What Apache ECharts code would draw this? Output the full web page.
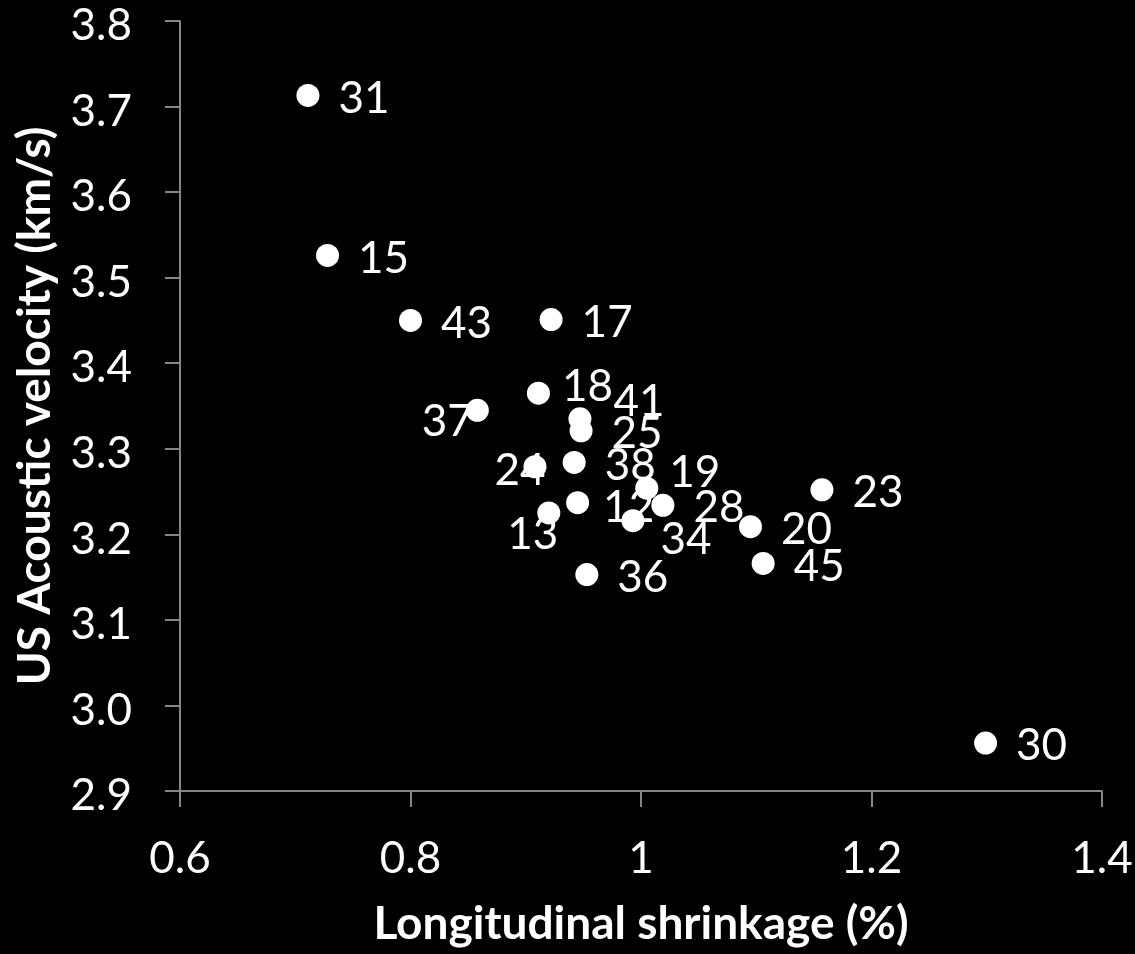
<!DOCTYPE html>
<html>
<head>
<meta charset="utf-8">
<script src="https://cdn.jsdelivr.net/npm/echarts@6/dist/echarts.min.js"></script>
<style>
html,body{margin:0;padding:0;background:#000;}
#chart{width:1135px;height:954px;}
</style>
</head>
<body>
<div id="chart"></div>
<script>
// Sample identifiers (point labels)
const sampleIds = ['31','15','43','17','18','37','41','25','24','38','12','13','19','28','34','36','20','45','23','30'];
// Longitudinal shrinkage (%)
const shrinkage = [0.711,0.728,0.800,0.922,0.911,0.858,0.947,0.948,0.908,0.942,0.945,0.920,1.005,1.019,0.993,0.953,1.095,1.106,1.157,1.299];
// US Acoustic velocity (km/s)
const velocity = [3.713,3.526,3.450,3.451,3.365,3.345,3.335,3.321,3.279,3.284,3.237,3.225,3.254,3.234,3.216,3.153,3.209,3.166,3.252,2.956];
// Axis tick labels
const xTicks = ['0.6','0.8','1','1.2','1.4'];
const yTicks = ['2.9','3.0','3.1','3.2','3.3','3.4','3.5','3.6','3.7','3.8'];

// Label placement tweaks (styling only)
const labelShift = {'37':[-86,9],'24':[-71,1],'13':[-72,19],'18':[-7,-9],'41':[3,-20],'19':[-8,-18],'12':[-5,2],'34':[-3,16]};

const FONT = 'Lato, "Open Sans", sans-serif';
const AXIS_COLOR = '#868686';

const points = sampleIds.map((id, i) => {
  const p = {name: id, value: [shrinkage[i], velocity[i]]};
  if (labelShift[id]) {
    p.label = {offset: [labelShift[id][0], labelShift[id][1] + 3]};
  }
  return p;
});

const chart = echarts.init(document.getElementById('chart'));
chart.setOption({
  backgroundColor: '#000',
  animation: false,
  grid: {left: 180, right: 33, top: 21, bottom: 163, containLabel: false, outerBoundsMode: 'none'},
  xAxis: {
    type: 'value', min: 0.6, max: 1.4, interval: 0.2,
    name: 'Longitudinal shrinkage (%)', nameLocation: 'middle', nameGap: 110,
    nameTextStyle: {color: '#fff', fontFamily: FONT, fontWeight: 'bold', fontSize: 46},
    axisLine: {show: true, lineStyle: {color: AXIS_COLOR, width: 2}},
    axisTick: {show: true, inside: false, length: 16, lineStyle: {color: AXIS_COLOR, width: 2}},
    splitLine: {show: false},
    axisLabel: {color: '#fff', fontFamily: FONT, fontSize: 44, margin: 46,
      formatter: v => xTicks[Math.round((v - 0.6) / 0.2)]}
  },
  yAxis: {
    type: 'value', min: 2.9, max: 3.8, interval: 0.1,
    name: 'US Acoustic velocity (km/s)', nameLocation: 'middle', nameGap: 122, nameRotate: 90,
    nameTextStyle: {color: '#fff', fontFamily: FONT, fontWeight: 'bold', fontSize: 46},
    axisLine: {show: true, lineStyle: {color: AXIS_COLOR, width: 2}},
    axisTick: {show: true, inside: false, length: 15, lineStyle: {color: AXIS_COLOR, width: 2}},
    splitLine: {show: false},
    axisLabel: {color: '#fff', fontFamily: FONT, fontSize: 44, margin: 48,
      formatter: v => '{t|' + yTicks[Math.round((v - 2.9) / 0.1)] + '}',
      rich: {t: {color: '#fff', fontFamily: FONT, fontSize: 44, padding: [10, 0, 0, 0]}}}
  },
  series: [{
    type: 'scatter',
    symbol: 'circle',
    symbolSize: 23,
    itemStyle: {color: '#fff', opacity: 1},
    label: {show: true, position: 'right', distance: 19, offset: [0, 3],
      color: '#fff', fontFamily: FONT, fontSize: 44, formatter: p => p.name},
    emphasis: {disabled: true},
    data: points
  }]
});
</script>
</body>
</html>
